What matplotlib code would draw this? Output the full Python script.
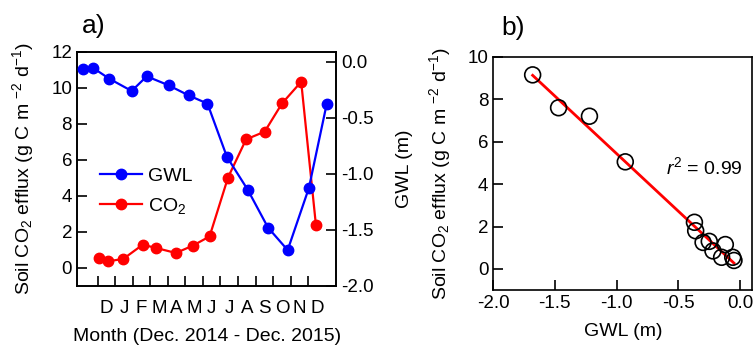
import numpy as np
import matplotlib
matplotlib.use("Agg")
import matplotlib.pyplot as plt

plt.rcParams['font.family'] = ['Liberation Sans', 'DejaVu Sans']
plt.rcParams['mathtext.fontset'] = 'custom'
plt.rcParams['mathtext.rm'] = 'Liberation Sans'
plt.rcParams['mathtext.it'] = 'Liberation Sans:italic'
plt.rcParams['axes.unicode_minus'] = False

# panel a: monthly series (x = position in months, tick k = start of month k)
month_labels = ["D", "J", "F", "M", "A", "M", "J", "J", "A", "S", "O", "N", "D"]
gwl_x = [-0.86, -0.25, 0.66, 1.94, 2.80, 4.04, 5.18, 6.26, 7.37, 8.55, 9.71, 10.83, 12.04, 13.05]
gwl_m = [-0.065, -0.054, -0.149, -0.259, -0.128, -0.208, -0.298, -0.372,
         -0.848, -1.14, -1.479, -1.68, -1.125, -0.378]
co2_x = [0.09, 0.61, 1.46, 2.57, 3.33, 4.46, 5.43, 6.38, 7.43, 8.46, 9.52, 10.51, 11.6, 12.44]
co2_flux = [0.55, 0.37, 0.50, 1.29, 1.11, 0.83, 1.24, 1.75, 5.02, 7.14, 7.57, 9.14, 10.34, 2.38]

# panel b: scatter of efflux vs GWL
b_gwl = [-1.68, -1.47, -1.22, -0.93, -0.37, -0.36, -0.30, -0.25, -0.22, -0.15, -0.12, -0.06, -0.05]
b_flux = [9.15, 7.6, 7.2, 5.05, 2.2, 1.8, 1.25, 1.3, 0.85, 0.55, 1.15, 0.55, 0.4]

FS = 14
TS = 13.5
co2_label = r"Soil CO$_2$ efflux (g C m $^{-2}$ d$^{-1}$)"

fig = plt.figure(figsize=(7.54, 3.53), dpi=100)

# ---- panel a
ax = fig.add_axes([0.102, 0.19, 0.344, 0.663])
ax2 = ax.twinx()

ax.plot(co2_x, co2_flux, color='red', marker='o', markersize=7.5, lw=1.6, label=r"CO$_2$", zorder=3)
ax2.plot(gwl_x, gwl_m, color='blue', marker='o', markersize=7.5, lw=1.6, label="GWL", zorder=3)

ax.set_ylim(-1, 12)
ax.set_yticks([0, 2, 4, 6, 8, 10, 12])
ax2.set_ylim(-2.0, 0.09)
ax2.set_yticks([0.0, -0.5, -1.0, -1.5, -2.0])
ax2.set_yticklabels(["0.0", "-0.5", "-1.0", "-1.5", "-2.0"])
ax.set_xlim(-1.18, 13.6)
ax.set_xticks(np.arange(13))
ax.set_xticklabels([])
ax.set_xticks(np.arange(13) + 0.5, minor=True)
ax.set_xticklabels(month_labels, minor=True)
ax.tick_params(axis='x', which='minor', length=0, labelsize=TS, pad=10)
ax.tick_params(axis='x', which='major', direction='in', length=7, width=1.2)
ax.tick_params(axis='y', direction='in', length=7, width=1.2, labelsize=TS, right=False)
ax2.tick_params(axis='y', direction='in', length=7, width=1.2, labelsize=TS, left=False)
ax.set_ylabel(co2_label, fontsize=FS, labelpad=11)
ax2.set_ylabel("GWL (m)", fontsize=FS, labelpad=16)
ax.set_xlabel("Month (Dec. 2014 - Dec. 2015)", fontsize=FS, labelpad=8)

h1, l1 = ax2.get_legend_handles_labels()
h2, l2 = ax.get_legend_handles_labels()
ax.legend(h1 + h2, l1 + l2, loc='upper left', bbox_to_anchor=(0.02, 0.58), frameon=False,
          fontsize=FS, handlelength=2.2, handletextpad=0.3, labelspacing=0.55)
ax.text(0.02, 1.06, "a)", transform=ax.transAxes, fontsize=19, va='bottom')

for a in (ax, ax2):
    for s in a.spines.values():
        s.set_linewidth(1.2)

# ---- panel b
bx = fig.add_axes([0.654, 0.178, 0.344, 0.661])
bx.scatter(b_gwl, b_flux, s=130, facecolors='none', edgecolors='black', linewidths=1.2, zorder=3)
slope, icpt = np.polyfit(b_gwl, b_flux, 1)
fx = np.array([min(b_gwl), max(b_gwl)])
bx.plot(fx, slope * fx + icpt, color='red', lw=2, zorder=2)
bx.set_xlim(-2.0, 0.1)
bx.set_ylim(-1, 10)
bx.set_xticks([-2.0, -1.5, -1.0, -0.5, 0.0])
bx.set_xticklabels(["-2.0", "-1.5", "-1.0", "-0.5", "0.0"])
bx.set_yticks([0, 2, 4, 6, 8, 10])
bx.tick_params(direction='in', length=7, width=1.2, labelsize=TS)
bx.set_xlabel("GWL (m)", fontsize=FS, labelpad=8)
bx.set_ylabel(co2_label, fontsize=FS, labelpad=10)
bx.text(-0.6, 4.45, r"$r^2$ = 0.99", fontsize=FS)
bx.text(0.03, 1.07, "b)", transform=bx.transAxes, fontsize=19, va='bottom')
for s in bx.spines.values():
    s.set_linewidth(1.2)

fig.savefig("out.png", dpi=100)
